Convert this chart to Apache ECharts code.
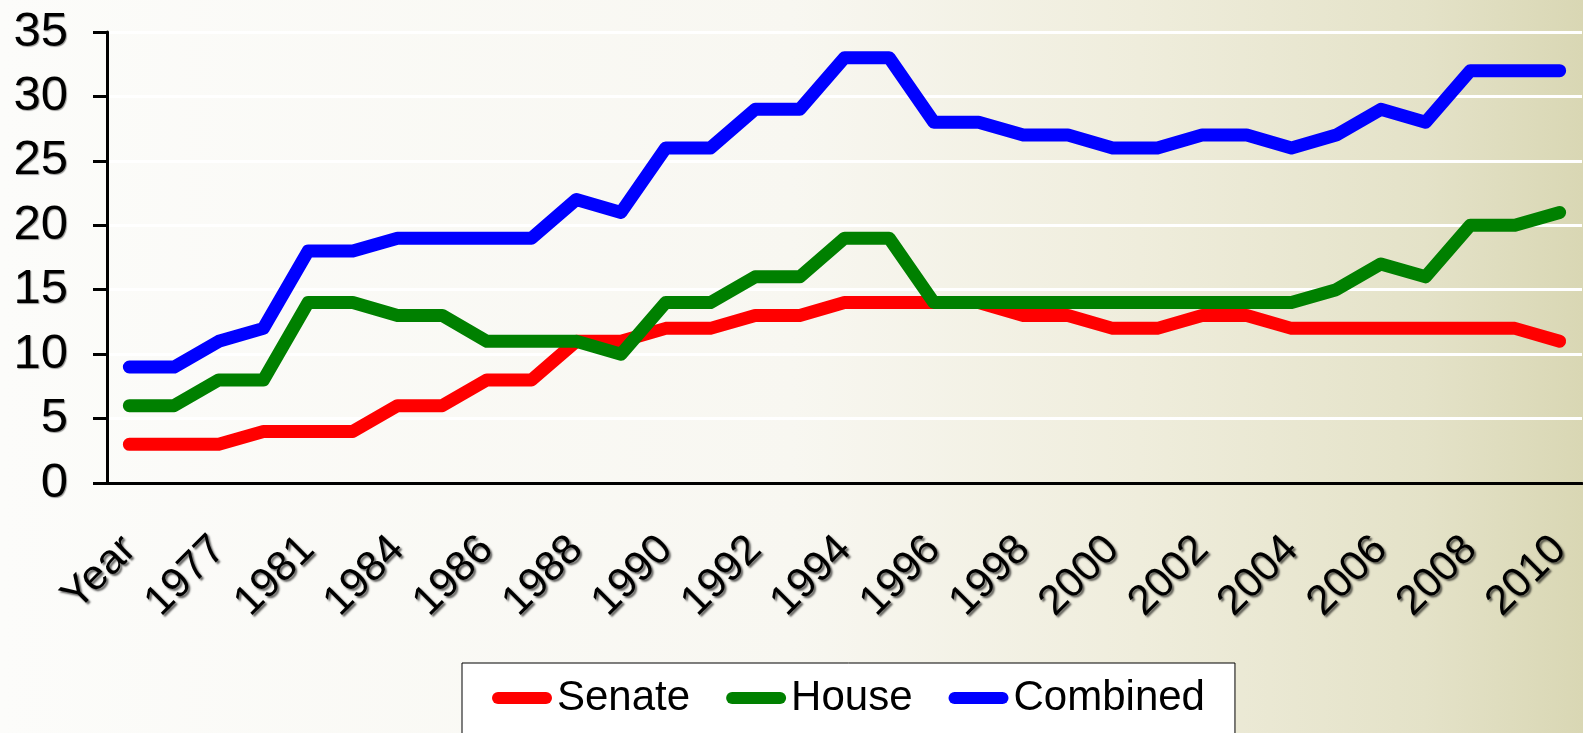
<!DOCTYPE html>
<html>
<head>
<meta charset="utf-8">
<script src="https://cdn.jsdelivr.net/npm/echarts@6/dist/echarts.min.js"></script>
<style>
  html, body { margin: 0; padding: 0; }
  #chart { width: 1583px; height: 733px; }
</style>
</head>
<body>
<div id="chart"></div>
<script>
// categorias (solo se muestra una de cada dos)
var years = ['Year', '1975', '1977', '1979', '1981', '1983', '1984', '1985', '1986', '1987',
  '1988', '1989', '1990', '1991', '1992', '1993', '1994', '1995', '1996', '1997',
  '1998', '1999', '2000', '2001', '2002', '2003', '2004', '2005', '2006', '2007',
  '2008', '2009', '2010'];

var senate = [3, 3, 3, 4, 4, 4, 6, 6, 8, 8, 11, 11, 12, 12, 13, 13, 14, 14, 14, 14,
  13, 13, 12, 12, 13, 13, 12, 12, 12, 12, 12, 12, 11];
var house = [6, 6, 8, 8, 14, 14, 13, 13, 11, 11, 11, 10, 14, 14, 16, 16, 19, 19, 14, 14,
  14, 14, 14, 14, 14, 14, 14, 15, 17, 16, 20, 20, 21];
var combined = [9, 9, 11, 12, 18, 18, 19, 19, 19, 19, 22, 21, 26, 26, 29, 29, 33, 33, 28, 28,
  27, 27, 26, 26, 27, 27, 26, 27, 29, 28, 32, 32, 32];

var chart = echarts.init(document.getElementById('chart'));

var capsule = 'path://M6,0 L54,0 A6,6 0 0 1 54,12 L6,12 A6,6 0 0 1 6,0 Z';

function lineSeries(name, data, color) {
  return {
    name: name,
    type: 'line',
    data: data,
    symbol: 'none',
    color: color,
    lineStyle: { width: 13, color: color, cap: 'round', join: 'round' }
  };
}

var option = {
  backgroundColor: new echarts.graphic.LinearGradient(0, 0, 1, 0, [
    { offset: 0, color: '#fcfcfa' },
    { offset: 0.5, color: '#f8f7f1' },
    { offset: 0.72, color: '#efeddc' },
    { offset: 0.9, color: '#e4e2c8' },
    { offset: 1, color: '#d9d7b4' }
  ]),
  animation: false,
  grid: { left: 107, right: 1, top: 32, bottom: 250 },
  legend: {
    left: 462,
    top: 663,
    padding: [14, 30, 40, 30],
    backgroundColor: '#ffffff',
    borderColor: '#000000',
    borderWidth: 1,
    itemWidth: 60,
    itemHeight: 12,
    itemGap: 36,
    icon: capsule,
    textStyle: { fontFamily: 'Liberation Sans', fontSize: 42, color: '#000' },
    data: ['Senate', 'House', 'Combined']
  },
  xAxis: {
    type: 'category',
    data: years,
    boundaryGap: true,
    axisLine: { lineStyle: { color: '#000', width: 3 } },
    axisTick: { interval: 0, length: 15, lineStyle: { color: '#000', width: 3 } },
    axisLabel: {
      interval: 1,
      rotate: 45,
      margin: 60,
      fontFamily: 'Liberation Sans',
      fontSize: 42,
      color: '#000',
      textShadowColor: 'rgba(0,0,0,0.6)',
      textShadowOffsetX: 2,
      textShadowOffsetY: 2,
      textShadowBlur: 2
    }
  },
  yAxis: {
    type: 'value',
    min: 0,
    max: 35,
    interval: 5,
    axisLine: { show: true, lineStyle: { color: '#000', width: 3 } },
    axisTick: { show: true, length: 14, lineStyle: { color: '#000', width: 3 } },
    splitLine: { lineStyle: { color: '#ffffff', width: 3 } },
    axisLabel: {
      margin: 39,
      fontFamily: 'Liberation Sans',
      fontSize: 49,
      color: '#000',
      textShadowColor: 'rgba(0,0,0,0.4)',
      textShadowOffsetX: 1,
      textShadowOffsetY: 1,
      textShadowBlur: 1
    }
  },
  series: [
    lineSeries('Senate', senate, '#ff0000'),
    lineSeries('House', house, '#008000'),
    lineSeries('Combined', combined, '#0000ff')
  ]
};

chart.setOption(option);
</script>
</body>
</html>
